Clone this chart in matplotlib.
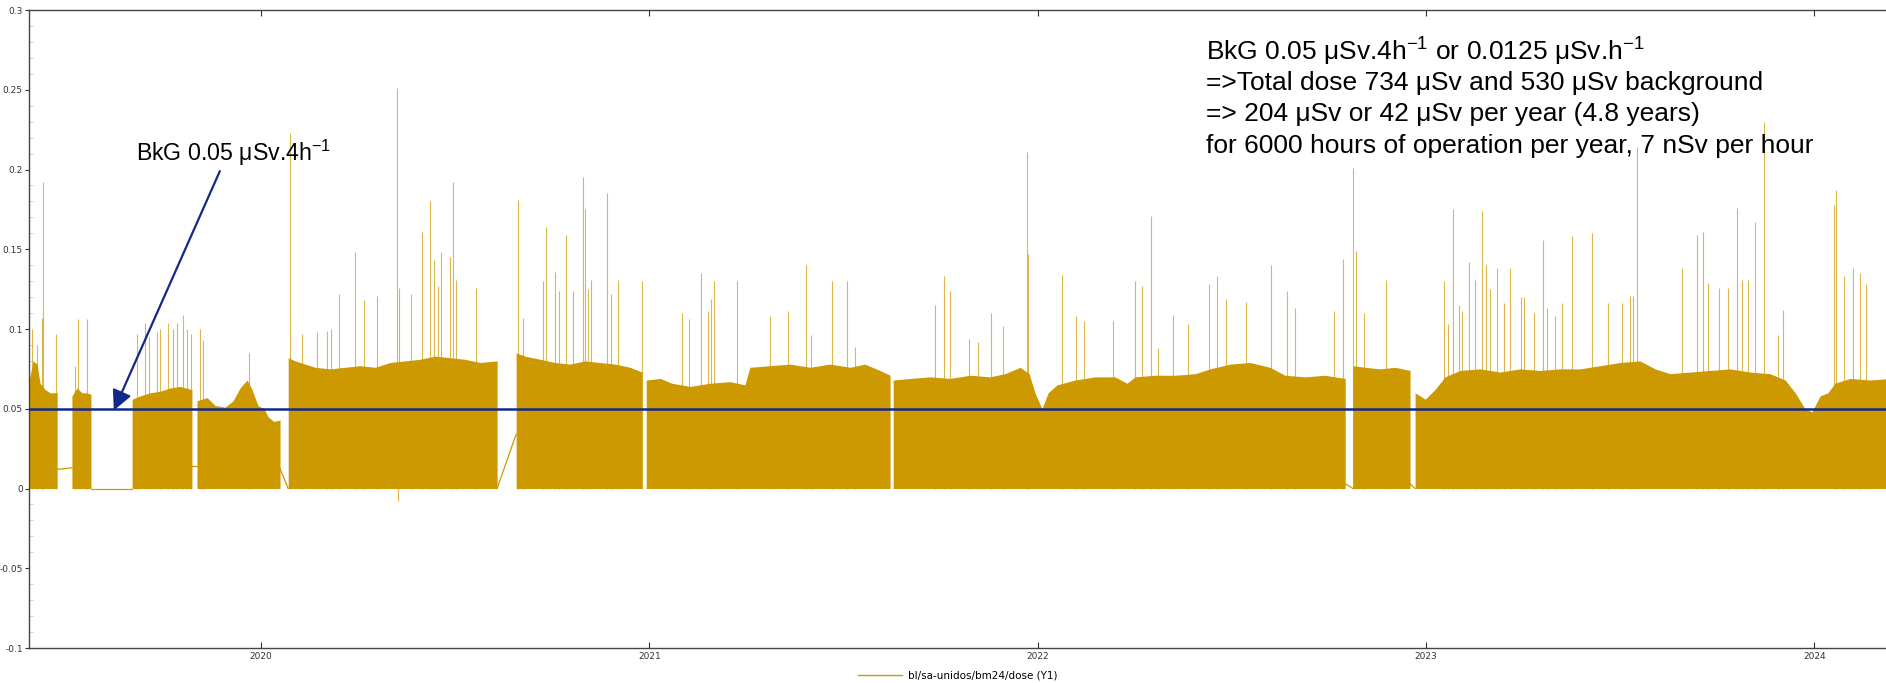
import numpy as np
import matplotlib.pyplot as plt
from matplotlib.ticker import MultipleLocator

plt.rcParams['font.family'] = 'DejaVu Sans'
plt.rcParams['mathtext.fontset'] = 'custom'
plt.rcParams['mathtext.default'] = 'regular'

# dose per 4h block, decimal year -> upper edge of the dense band (bottom is 0)
seg_a = [(2019.403, 0.068), (2019.413, 0.080), (2019.423, 0.078), (2019.431, 0.066),
         (2019.444, 0.062), (2019.457, 0.060), (2019.475, 0.060)]
seg_b = [(2019.513, 0.058), (2019.526, 0.063), (2019.539, 0.060), (2019.552, 0.060),
         (2019.562, 0.059)]
seg_c = [(2019.668, 0.056), (2019.688, 0.058), (2019.714, 0.060), (2019.740, 0.061),
         (2019.766, 0.063), (2019.791, 0.064), (2019.822, 0.062)]
seg_d = [(2019.835, 0.055), (2019.861, 0.057), (2019.882, 0.052), (2019.907, 0.051),
         (2019.928, 0.055), (2019.946, 0.063), (2019.964, 0.068), (2019.977, 0.062),
         (2019.992, 0.052), (2020.008, 0.050), (2020.018, 0.045), (2020.033, 0.042),
         (2020.049, 0.043)]
seg_e = [(2020.070, 0.082), (2020.088, 0.080), (2020.113, 0.078), (2020.139, 0.076),
         (2020.178, 0.075), (2020.216, 0.076), (2020.255, 0.077), (2020.294, 0.076),
         (2020.332, 0.079), (2020.371, 0.080), (2020.409, 0.081), (2020.448, 0.083),
         (2020.487, 0.082), (2020.525, 0.081), (2020.564, 0.079), (2020.608, 0.080)]
seg_f = [(2020.657, 0.085), (2020.680, 0.083), (2020.719, 0.081), (2020.757, 0.079),
         (2020.796, 0.078), (2020.834, 0.080), (2020.873, 0.079), (2020.912, 0.078),
         (2020.950, 0.076), (2020.981, 0.073)]
seg_g = [(2020.992, 0.068), (2021.028, 0.069), (2021.058, 0.066), (2021.105, 0.064),
         (2021.156, 0.066), (2021.208, 0.067), (2021.246, 0.065), (2021.259, 0.076),
         (2021.311, 0.077), (2021.362, 0.078), (2021.414, 0.076), (2021.465, 0.078),
         (2021.517, 0.076), (2021.555, 0.078), (2021.594, 0.074), (2021.620, 0.071)]
seg_h = [(2021.628, 0.068), (2021.671, 0.069), (2021.723, 0.070), (2021.774, 0.069),
         (2021.826, 0.071), (2021.877, 0.070), (2021.916, 0.072), (2021.955, 0.076),
         (2021.978, 0.072), (2021.993, 0.060), (2022.011, 0.050), (2022.027, 0.060),
         (2022.050, 0.065), (2022.096, 0.068), (2022.148, 0.070), (2022.199, 0.070),
         (2022.230, 0.066), (2022.251, 0.070), (2022.302, 0.071), (2022.354, 0.071),
         (2022.406, 0.072), (2022.444, 0.075), (2022.496, 0.078), (2022.547, 0.079),
         (2022.598, 0.076), (2022.637, 0.071), (2022.689, 0.070), (2022.740, 0.071),
         (2022.792, 0.069)]
seg_i = [(2022.812, 0.077), (2022.843, 0.076), (2022.882, 0.075), (2022.920, 0.076),
         (2022.959, 0.074)]
seg_j = [(2022.972, 0.060), (2022.998, 0.056), (2023.023, 0.062), (2023.049, 0.070),
         (2023.088, 0.074), (2023.139, 0.075), (2023.191, 0.073), (2023.242, 0.075),
         (2023.294, 0.074), (2023.345, 0.075), (2023.397, 0.075), (2023.448, 0.077),
         (2023.500, 0.079), (2023.551, 0.080), (2023.590, 0.075), (2023.629, 0.072),
         (2023.680, 0.073), (2023.732, 0.074), (2023.783, 0.075), (2023.835, 0.073),
         (2023.886, 0.072), (2023.925, 0.068), (2023.951, 0.060), (2023.976, 0.050),
         (2023.994, 0.048), (2024.015, 0.058), (2024.035, 0.060), (2024.053, 0.066),
         (2024.092, 0.069), (2024.143, 0.068), (2024.195, 0.069)]
segments = [seg_a, seg_b, seg_c, seg_d, seg_e, seg_f, seg_g, seg_h, seg_i, seg_j]

# thin trace across the gaps in operation
gaps = [[(2019.475, 0.012), (2019.513, 0.013)],
        [(2019.562, 0.0), (2019.668, 0.0)],
        [(2019.822, 0.014), (2019.835, 0.014)],
        [(2020.049, 0.0125), (2020.070, 0.0)],
        [(2020.608, 0.0), (2020.657, 0.034)],
        [(2022.792, 0.003), (2022.812, 0.0)],
        [(2022.959, 0.003), (2022.972, 0.0)]]

# isolated peaks (decimal year, dose)
spike_t = [2019.410, 2019.423, 2019.436, 2019.439, 2019.472, 2019.521, 2019.529, 2019.552,
           2019.681, 2019.701, 2019.712, 2019.732, 2019.740, 2019.760, 2019.773, 2019.784,
           2019.799, 2019.809, 2019.820, 2019.843, 2019.851, 2019.969,
           2020.075, 2020.106, 2020.144, 2020.170, 2020.180, 2020.201, 2020.242, 2020.265,
           2020.299, 2020.350, 2020.355, 2020.386, 2020.415, 2020.435, 2020.446, 2020.456,
           2020.464, 2020.487, 2020.494, 2020.502, 2020.554,
           2020.662, 2020.675, 2020.726, 2020.734, 2020.757, 2020.767, 2020.785, 2020.803,
           2020.829, 2020.834, 2020.842, 2020.850, 2020.891, 2020.901, 2020.919, 2020.981,
           2021.084, 2021.102, 2021.133, 2021.151, 2021.159, 2021.167, 2021.226, 2021.311,
           2021.357, 2021.404, 2021.416, 2021.471, 2021.509, 2021.530, 2021.736, 2021.759,
           2021.774, 2021.823, 2021.847, 2021.880, 2021.911, 2021.973, 2021.975,
           2022.063, 2022.099, 2022.119, 2022.194, 2022.251, 2022.269, 2022.292, 2022.310,
           2022.349, 2022.387, 2022.441, 2022.462, 2022.485, 2022.537, 2022.601, 2022.642,
           2022.663, 2022.763, 2022.787, 2022.812, 2022.820, 2022.841, 2022.897,
           2023.047, 2023.057, 2023.070, 2023.085, 2023.093, 2023.111, 2023.126, 2023.144,
           2023.155, 2023.165, 2023.183, 2023.201, 2023.217, 2023.245, 2023.253, 2023.279,
           2023.302, 2023.312, 2023.332, 2023.350, 2023.376, 2023.428, 2023.469, 2023.505,
           2023.526, 2023.533, 2023.544, 2023.660, 2023.698, 2023.714, 2023.726, 2023.755,
           2023.778, 2023.801, 2023.814, 2023.829, 2023.847, 2023.871, 2023.907, 2023.920,
           2024.051, 2024.056, 2024.077, 2024.100, 2024.118, 2024.133]
spike_v = [0.100, 0.090, 0.107, 0.192, 0.097, 0.077, 0.106, 0.106,
           0.097, 0.104, 0.095, 0.098, 0.100, 0.104, 0.100, 0.104,
           0.109, 0.100, 0.097, 0.100, 0.093, 0.085,
           0.223, 0.097, 0.098, 0.099, 0.100, 0.122, 0.148, 0.118,
           0.121, 0.251, 0.126, 0.122, 0.161, 0.180, 0.143, 0.127,
           0.148, 0.145, 0.192, 0.131, 0.126,
           0.181, 0.107, 0.130, 0.164, 0.136, 0.124, 0.159, 0.124,
           0.195, 0.175, 0.125, 0.131, 0.185, 0.122, 0.131, 0.130,
           0.110, 0.106, 0.135, 0.111, 0.119, 0.130, 0.130, 0.108,
           0.111, 0.140, 0.096, 0.130, 0.130, 0.089, 0.115, 0.133,
           0.124, 0.094, 0.092, 0.110, 0.102, 0.211, 0.147,
           0.134, 0.108, 0.105, 0.105, 0.130, 0.127, 0.171, 0.088,
           0.109, 0.103, 0.128, 0.133, 0.119, 0.117, 0.140, 0.124,
           0.113, 0.111, 0.144, 0.201, 0.149, 0.110, 0.131,
           0.130, 0.103, 0.175, 0.115, 0.111, 0.142, 0.131, 0.174,
           0.140, 0.125, 0.138, 0.116, 0.138, 0.120, 0.120, 0.110,
           0.156, 0.113, 0.108, 0.116, 0.158, 0.160, 0.116, 0.116,
           0.121, 0.121, 0.214, 0.138, 0.159, 0.161, 0.129, 0.126,
           0.126, 0.176, 0.131, 0.131, 0.167, 0.230, 0.096, 0.112,
           0.178, 0.187, 0.133, 0.138, 0.135, 0.128]
dip_t = [2020.353]
dip_v = [-0.008]

background = 0.05
year_ticks = [2020, 2021, 2022, 2023, 2024]
y_ticks = [-0.1, -0.05, 0, 0.05, 0.1, 0.15, 0.2, 0.25, 0.3]
y_labels = ['-0.1', '-0.05', '0', '0.05', '0.1', '0.15', '0.2', '0.25', '0.3']

gold = '#CC9900'
navy = '#14288A'

fig = plt.figure(figsize=(18.86, 6.83), dpi=100)
ax = fig.add_axes([0.01538, 0.05124, 0.98674, 0.93411])

for seg in segments:
    t = [p[0] for p in seg]
    v = [p[1] for p in seg]
    ax.fill_between(t, 0, v, color=gold, lw=0, zorder=2)
for g in gaps:
    ax.plot([p[0] for p in g], [p[1] for p in g], color=gold, lw=0.9, zorder=2)
ax.vlines(spike_t, 0, spike_v, color=gold, lw=0.8, alpha=0.7, zorder=2)
ax.vlines(dip_t, 0, dip_v, color=gold, lw=0.8, alpha=0.7, zorder=2)
ax.plot([], [], color=gold, lw=1, label='bl/sa-unidos/bm24/dose (Y1)')

ax.axhline(background, color=navy, lw=1.8, zorder=5)

ax.annotate('', xy=(2019.621, 0.049), xytext=(2019.894, 0.199),
            arrowprops=dict(arrowstyle='-|>', color=navy, lw=1.6,
                            mutation_scale=30, shrinkA=0, shrinkB=0), zorder=6)
ax.text(2019.678, 0.2105, 'BkG 0.05 μSv.4h$^{-1}$', fontsize=16.7,
        family='Liberation Sans', va='center', ha='left', zorder=6)

notes = ['BkG 0.05 μSv.4h$^{-1}$ or 0.0125 μSv.h$^{-1}$',
         '=>Total dose 734 μSv and 530 μSv background',
         '=> 204 μSv or 42 μSv per year (4.8 years)',
         'for 6000 hours of operation per year, 7 nSv per hour']
for k, line in enumerate(notes):
    ax.text(2022.434, 0.2740 - k * 0.0197, line, fontsize=19,
            family='Liberation Sans', va='center', ha='left', zorder=6)

ax.set_xlim(2019.4025, 2024.195)
ax.set_ylim(-0.1, 0.3)
ax.set_xticks(year_ticks)
ax.set_xticklabels([str(y) for y in year_ticks])
ax.set_yticks(y_ticks)
ax.set_yticklabels(y_labels)
ax.yaxis.set_minor_locator(MultipleLocator(0.01))
ax.tick_params(axis='x', direction='in', top=True, length=4, labelsize=6.5,
               colors='#333333', pad=3)
ax.tick_params(axis='y', which='major', direction='out', length=3, labelsize=6.5,
               colors='#333333', pad=1.5)
ax.tick_params(axis='y', which='minor', direction='in', length=3, color='#cccccc')
for s in ax.spines.values():
    s.set_color('#444444')
    s.set_linewidth(1.0)

fig.legend(loc='center', bbox_to_anchor=(0.508, 1 - 676 / 683), frameon=False,
           fontsize=7.5, handlelength=4.2, handletextpad=0.6, borderpad=0)

fig.savefig('out.png', dpi=100)
